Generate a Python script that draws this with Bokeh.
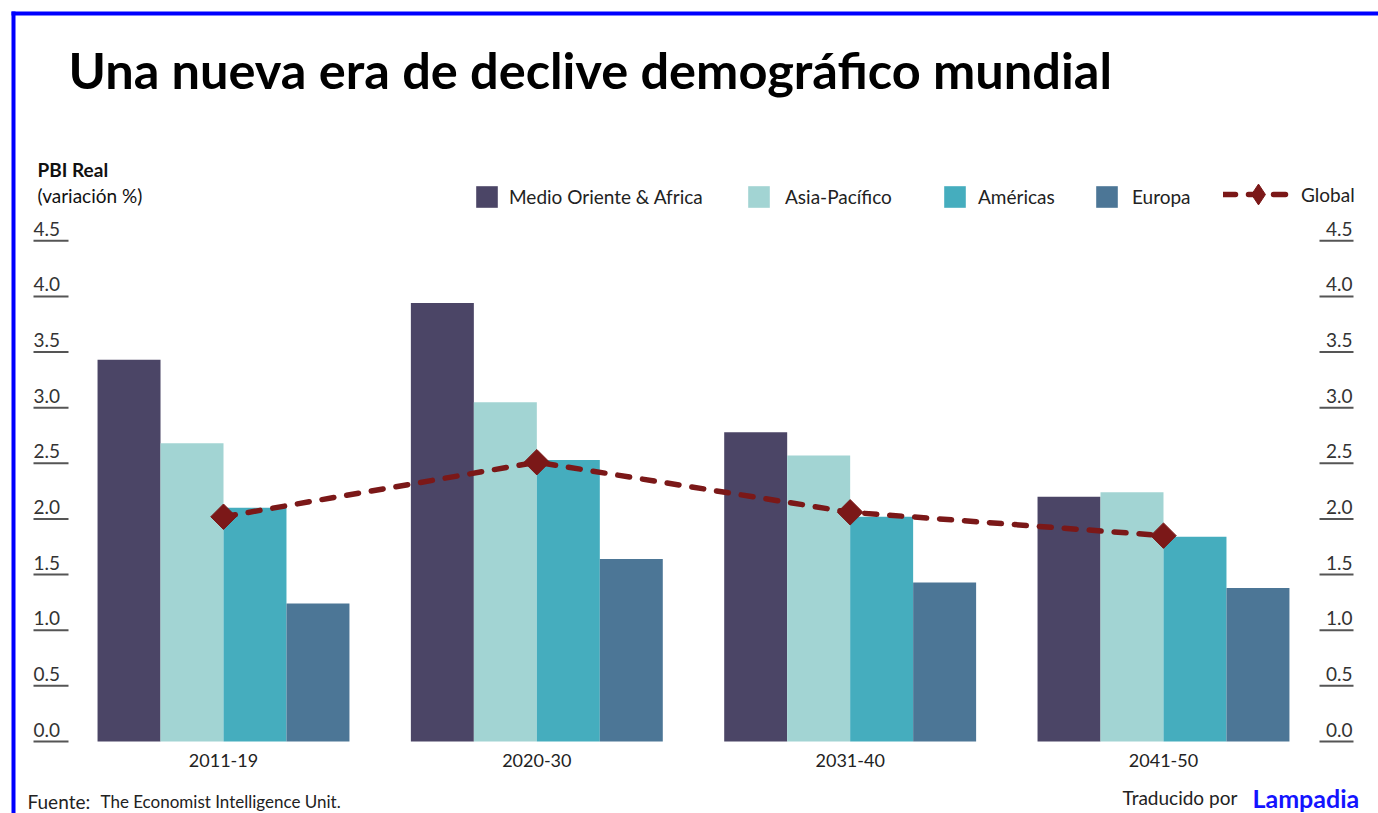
import numpy as np
from bokeh.plotting import figure
from bokeh.models import Range1d, Label, Legend, LegendItem, ColumnDataSource
from bokeh.core.properties import value
from bokeh.embed import file_html
from bokeh.resources import INLINE

# ---------------- data ----------------
periods = ["2011-19", "2020-30", "2031-40", "2041-50"]
series_names = ["Medio Oriente & Africa", "Asia-Pacífico", "Américas", "Europa"]
medio_oriente_africa = [3.43, 3.94, 2.78, 2.20]
asia_pacifico = [2.68, 3.05, 2.57, 2.24]
americas = [2.10, 2.53, 2.02, 1.84]
europa = [1.24, 1.64, 1.43, 1.38]
global_growth = [2.02, 2.51, 2.06, 1.85]
y_ticks = [0.0, 0.5, 1.0, 1.5, 2.0, 2.5, 3.0, 3.5, 4.0, 4.5]

colors = ["#4b4566", "#a2d4d3", "#45adbe", "#4c7696"]
global_color = "#7b1818"

# ---------------- layout ----------------
W, H, OFF = 1378, 813, 0          # canvas size, page offset of canvas
PXU_X = 313.33                    # pixels per category unit
PXU_Y = 111.27                    # pixels per 1 %
X0_PAGE = 223                     # page x of first category centre
Y0_PAGE = 741                     # page y of value 0
x_start = -(X0_PAGE - OFF) / PXU_X
x_end = x_start + W / PXU_X
y_start = -((H + OFF) - Y0_PAGE) / PXU_Y
y_end = y_start + H / PXU_Y

def dx(px):
    return x_start + (px - OFF) / PXU_X

def dy(py):
    return y_start + (H - (py - OFF)) / PXU_Y

def sx(px):
    return px - OFF

def sy(py):
    return H - (py - OFF)

p = figure(width=W, height=H, x_range=Range1d(x_start, x_end), y_range=Range1d(y_start, y_end),
           x_axis_location=None, y_axis_location=None, title=None,
           toolbar_location=None, output_backend="svg", min_border=0)
p.outline_line_color = None
p.background_fill_color = "white"
p.border_fill_color = "white"
p.grid.visible = False

# ---------------- bars ----------------
bar_w = 0.201
series = [medio_oriente_africa, asia_pacifico, americas, europa]
xs = np.arange(len(periods))
bar_renderers = []
for i, (name, vals, col) in enumerate(zip(series_names, series, colors)):
    src = ColumnDataSource(dict(x=xs + (i - 1.5) * bar_w, top=vals))
    r = p.vbar(x="x", top="top", bottom=0, width=bar_w, source=src,
               fill_color=col, line_color=None)
    bar_renderers.append(r)

# ---------------- global line ----------------
gsrc = ColumnDataSource(dict(x=xs, y=global_growth))
gl = p.line(x="x", y="y", source=gsrc, line_color=global_color, line_width=5.5,
            line_dash="12 13", line_cap="round")
gm = p.scatter(x="x", y="y", source=gsrc, marker="square", angle=np.pi / 4, size=18,
               fill_color=global_color, line_color=global_color)
# legend-only marker (diamond shape, nothing drawn in the plot)
gleg = p.scatter(x=[np.nan], y=[np.nan], marker="diamond", size=18,
                 fill_color=global_color, line_color=global_color)

# ---------------- y tick labels (both sides, underlined) ----------------
tick_txt = ["%.1f" % t for t in y_ticks]
tick_lift = 12 / PXU_Y
tsrc = ColumnDataSource(dict(y=y_ticks, ty=[t + tick_lift for t in y_ticks], t=tick_txt))
p.text(x=dx(33), y="ty", text="t", source=tsrc, text_font=value("Lato"), text_font_size="19px",
       text_color="#333333", text_baseline="middle", text_align="left")
p.segment(x0=dx(33), x1=dx(68), y0="y", y1="y", source=tsrc, line_color="#555555", line_width=2)
p.text(x=dx(1352), y="ty", text="t", source=tsrc, text_font=value("Lato"), text_font_size="19px",
       text_color="#333333", text_baseline="middle", text_align="right")
p.segment(x0=dx(1319), x1=dx(1353), y0="y", y1="y", source=tsrc, line_color="#555555", line_width=2)

# ---------------- category labels ----------------
csrc = ColumnDataSource(dict(x=xs, y=[-19 / PXU_Y] * len(periods), t=periods))
p.text(x="x", y="y", text="t", source=csrc, text_font=value("Lato"), text_font_size="18px",
       text_color="#222222", text_align="center", text_baseline="middle")

# ---------------- blue frame (top & left) ----------------
p.segment(x0=[dx(11), dx(13)], y0=[dy(13), dy(11)], x1=[dx(1380), dx(13)], y1=[dy(13), dy(830)],
          line_color="#0000ff", line_width=4)

# ---------------- texts ----------------
def lab(text, px, py, size, bold=False, color="#111111", align="left", font="Lato"):
    p.add_layout(Label(x=sx(px), y=sy(py), x_units="screen", y_units="screen", text=text,
                       text_font=font, text_font_size=size, text_color=color,
                       text_font_style="bold" if bold else "normal",
                       text_align=align, text_baseline="alphabetic"))

lab("Una nueva era de declive demográfico mundial", 68, 69, "50.5px", bold=True, color="#000000")
lab("PBI Real", 37, 169, "19px", bold=True)
lab("(variación %)", 37, 195, "19px")
lab("Fuente:", 27, 801, "19px", color="#222222")
lab("The Economist Intelligence Unit.", 100, 801, "17px", color="#222222")
lab("Traducido por", 1122, 797, "19px", color="#222222")
lab("Lampadia", 1252, 797, "25px", bold=True, color="#1414ff")

# ---------------- legends ----------------
def add_legend(label, renderers, left_px, bottom_py, gw, gh, standoff):
    lg = Legend(items=[LegendItem(label=label, renderers=renderers)],
                location=(sx(left_px), sy(bottom_py)), orientation="horizontal",
                glyph_width=gw, glyph_height=gh, label_standoff=standoff,
                padding=0, margin=0, spacing=0, border_line_color=None,
                background_fill_alpha=0, label_text_font="Lato",
                label_text_font_size="19px", label_text_color="#222222", label_height=gh)
    p.add_layout(lg)

leg_left = [473, 745, 941, 1093]
leg_standoff = [9, 13, 10, 12]
for name, r, lx, so in zip(series_names, bar_renderers, leg_left, leg_standoff):
    add_legend(name, [r], lx, 210, 27, 27, so)
add_legend("Global", [gl, gleg], 1223, 220, 70, 52, 8)

open("out.html", "w").write(file_html(p, INLINE))
